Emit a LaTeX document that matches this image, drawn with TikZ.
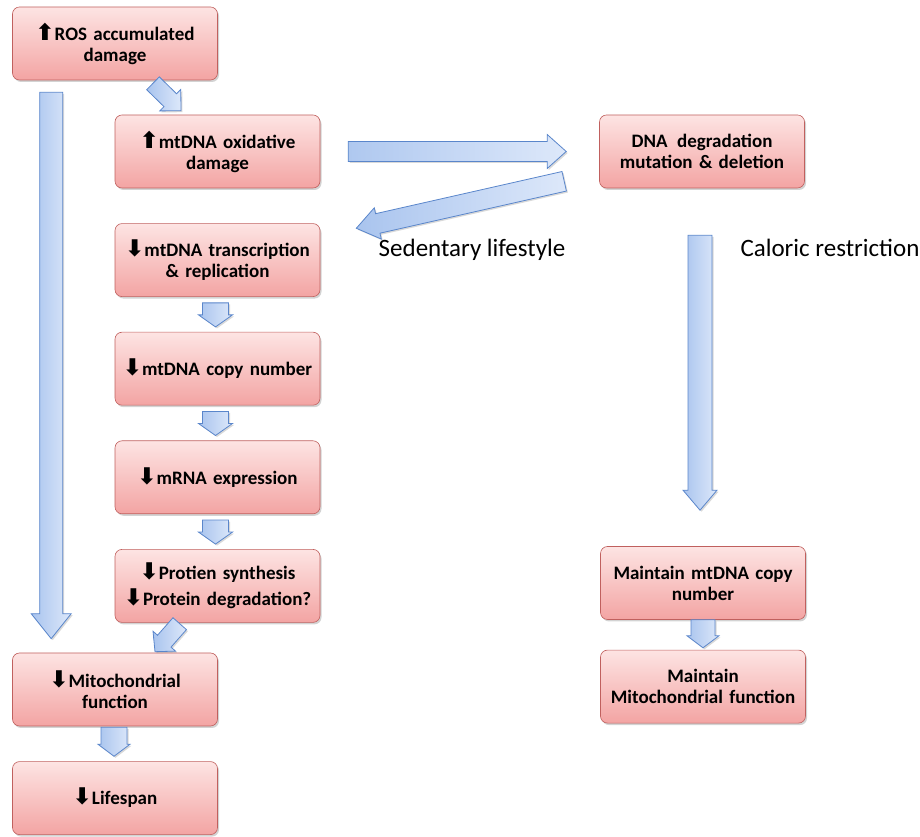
\documentclass[tikz,border=0pt]{standalone}
\usepackage{fontspec}
\setmainfont{Carlito}
\newfontfamily\symfont{DejaVu Sans}
\usepackage{xcolor}
\usetikzlibrary{calc,positioning,shadows}

\definecolor{boxtop}{HTML}{FDE4E3}
\definecolor{boxbot}{HTML}{F3A4A3}
\definecolor{boxline}{HTML}{C0605E}
\definecolor{arrdark}{HTML}{A9C4EE}
\definecolor{arrlight}{HTML}{DDE8FA}
\definecolor{arrline}{HTML}{5A86CB}

\newcommand{\uparr}{{\symfont\fontsize{23}{21}\selectfont ⬆}}
\newcommand{\downarr}{{\symfont\fontsize{23}{21}\selectfont ⬇}}

\tikzset{
  box/.style={rectangle, rounded corners=7pt, draw=boxline, line width=0.6pt,
    top color=boxtop, bottom color=boxbot, minimum width=205pt, minimum height=73pt,
    text width=202pt, align=center, inner sep=1pt,
    font=\fontsize{19}{21}\selectfont\bfseries,
    drop shadow={shadow xshift=1.5pt, shadow yshift=-2pt, opacity=0.35}},
  lbl/.style={font=\fontsize{25}{28}\selectfont},
  ba shaft/.store in=\bashaft, ba head/.store in=\bahead, ba len/.store in=\balen,
  ba from/.store in=\bafrom, ba to/.store in=\bato,
  ba shaft=12, ba head=17, ba len=12, ba from=4, ba to=4,
  blockarr/.style={draw=arrline, line width=0.8pt, left color=arrdark, right color=arrlight,
    drop shadow={shadow xshift=1.5pt, shadow yshift=-1.5pt, opacity=0.3},
    to path={
      let \p1=($(\tikztostart)!\bafrom pt!(\tikztotarget)$),
          \p2=($(\tikztotarget)!\bato pt!(\tikztostart)$),
          \n1={atan2(\y2-\y1,\x2-\x1)},
          \n2={veclen(\x2-\x1,\y2-\y1)-\balen}
      in ($(\p1)+(\n1+90:\bashaft)$) -- ($(\p1)+(\n1:\n2)+(\n1+90:\bashaft)$)
         -- ($(\p1)+(\n1:\n2)+(\n1+90:\bahead)$) -- (\p2)
         -- ($(\p1)+(\n1:\n2)+(\n1-90:\bahead)$) -- ($(\p1)+(\n1:\n2)+(\n1-90:\bashaft)$)
         -- ($(\p1)+(\n1-90:\bashaft)$) -- cycle}},
}

\begin{document}
\begin{tikzpicture}[x=1pt,y=1pt]
\useasboundingbox (0,0) rectangle (920,837);

% left column
\node[box] (ros) at (115,793.5) {\uparr ROS accumulated\\damage};
\node[box] (oxid) at (217.5,685.5) {\uparr mtDNA oxidative\\damage};
\node[box, below=35pt of oxid] (trans) {\downarr mtDNA transcription\\\& replication};
\node[box, below=35pt of trans] (copy) {\downarr mtDNA copy number};
\node[box, below=35pt of copy] (mrna) {\downarr mRNA expression};
\node[box, below=35pt of mrna] (prot) {\downarr Protien synthesis\\[5pt]\downarr Protein degradation?};
\node[box] (mito) at (115,147.5) {\downarr Mitochondrial\\function};
\node[box, below=35pt of mito] (life) {\downarr Lifespan};

% right column
\node[box] (dnadeg) at (702,685.5) {DNA\enspace degradation\\mutation \& deletion};
\node[box] (mcopy) at (703,254) {Maintain mtDNA copy\\number};
\node[box, below=30pt of mcopy] (mmito) {Maintain\\Mitochondrial function};

\node[lbl] (sed) at (472,587) {Sedentary lifestyle};
\node[lbl, anchor=west] (cal) at (737,589) {Caloric restriction};

% arrows
\draw[blockarr, ba shaft=11.5, ba head=20, ba len=25, ba from=12, ba to=14]
  ($(ros.south west)+(39,0)$) to ($(mito.north west)+(39,0)$);
\draw[blockarr, ba shaft=9, ba head=15, ba len=15, ba from=0, ba to=0]
  ($(ros.south)+(38,-3)$) to ($(oxid.north)+(-36.5,4)$);
\foreach \a/\b in {trans/copy, copy/mrna, mrna/prot}
  \draw[blockarr, ba shaft=13, ba head=17, ba len=12, ba from=6, ba to=5]
    ($(\a.south)+(-2,0)$) to ($(\b.north)+(-2,0)$);
\draw[blockarr, ba shaft=9, ba head=15, ba len=14, ba from=0, ba to=0]
  ($(prot.south west)+(65,-1)$) to ($(mito.north)+(40,1)$);
\draw[blockarr, ba shaft=13, ba head=16, ba len=12, ba from=1, ba to=5]
  ($(mito.south)+(-1,0)$) to ($(life.north)+(-1,0)$);

\draw[blockarr, ba shaft=10, ba head=17, ba len=19, ba from=28, ba to=33]
  (oxid.east) to (dnadeg.west);
\draw[blockarr, ba shaft=10, ba head=16, ba len=22, ba from=0, ba to=0]
  ($(dnadeg.south west)+(-35,7)$) to ($(trans.north east)+(36,-5)$);
\draw[blockarr, ba shaft=12, ba head=17, ba len=20, ba from=47, ba to=36]
  ($(dnadeg.south)+(-2,0)$) to ($(mcopy.north)+(-3,0)$);
\draw[blockarr, ba shaft=12, ba head=16, ba len=12, ba from=0, ba to=2]
  (mcopy.south) to (mmito.north);
\end{tikzpicture}
\end{document}
